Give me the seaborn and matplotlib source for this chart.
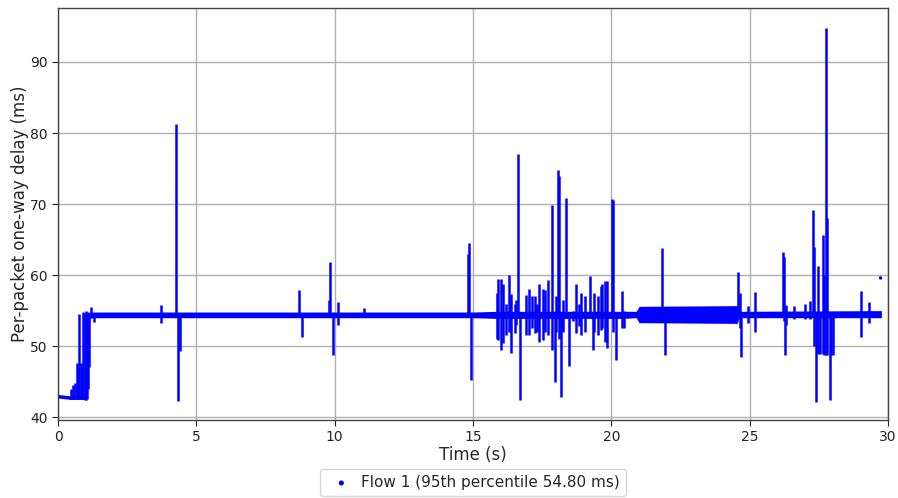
import numpy as np
import matplotlib
matplotlib.use("Agg")
import matplotlib.pyplot as plt
import seaborn as sns

# steady delay band (lower / upper edge)
band_t = [0.0, 0.45, 1.0, 1.15, 4.2, 4.5, 15.0, 15.85, 20.45, 20.9, 21.0, 24.55, 24.62, 29.76]
band_lo = [42.7, 42.5, 42.5, 54.0, 54.0, 54.0, 54.0, 53.9, 53.9, 54.0, 53.3, 53.2, 54.0, 54.0]
band_hi = [43.2, 43.0, 43.1, 54.8, 54.8, 54.8, 54.8, 54.9, 54.9, 54.9, 55.6, 55.7, 54.9, 55.0]

# delay spikes: time, lowest and highest delay of each burst
spike_t = [0.47, 0.55, 0.62, 0.67, 0.72, 0.77, 0.84, 0.88, 0.92, 0.96, 1.00, 1.04, 1.08, 1.12,
           1.19, 1.30, 3.74, 4.28, 4.33, 4.40, 8.72, 8.83, 9.80, 9.84, 9.93, 10.11, 11.05,
           14.83, 14.86, 14.94, 15.85, 15.92, 16.00, 16.08, 16.18, 16.29, 16.39, 16.50, 16.55,
           16.62, 16.69, 16.90, 17.02, 17.12, 17.23, 17.31, 17.39, 17.53, 17.61, 17.71, 17.86,
           17.96, 18.00, 18.06, 18.10, 18.19, 18.25, 18.37, 18.47, 18.60, 18.73, 18.83, 18.92,
           19.06, 19.23, 19.33, 19.37, 19.52, 19.62, 19.66, 19.78, 19.84, 20.04, 20.07, 20.16,
           20.37, 20.47, 21.84, 21.94, 24.58, 24.64, 24.67, 24.95, 25.19, 26.20, 26.25, 26.29,
           26.33, 26.60, 27.00, 27.19, 27.29, 27.33, 27.39, 27.47, 27.55, 27.64, 27.70, 27.77,
           27.81, 27.89, 27.95, 28.00, 29.04, 29.30]
spike_lo = [42.6, 42.6, 42.6, 42.6, 42.6, 42.6, 42.6, 42.6, 42.6, 42.4, 42.4, 42.6, 44.0, 47.0,
            54.0, 53.4, 53.2, 54.4, 42.3, 49.3, 54.4, 51.3, 54.4, 54.4, 48.8, 53.0, 54.2,
            54.4, 54.4, 45.2, 51.0, 50.8, 49.4, 50.4, 51.5, 52.0, 49.1, 51.8, 53.0,
            54.4, 42.4, 51.5, 51.5, 52.5, 51.8, 52.0, 50.6, 50.8, 52.0, 51.5, 49.4,
            45.0, 52.0, 54.4, 51.0, 42.9, 52.0, 54.4, 47.2, 53.5, 51.8, 52.8, 51.5,
            52.0, 54.4, 49.4, 52.0, 51.5, 52.3, 52.5, 50.6, 49.8, 54.4, 52.0, 48.0,
            52.6, 52.5, 54.4, 48.8, 54.4, 52.5, 48.5, 53.2, 52.0, 54.4, 53.5, 48.8,
            53.0, 53.8, 53.8, 53.8, 54.4, 50.0, 42.2, 48.9, 48.9, 48.9, 48.7, 48.7,
            48.7, 42.4, 48.7, 48.7, 51.3, 53.2]
spike_hi = [43.9, 44.5, 44.8, 47.6, 47.2, 54.5, 47.6, 47.0, 54.8, 54.6, 55.0, 54.5, 54.8, 54.6,
            55.5, 54.4, 55.8, 81.2, 54.4, 54.4, 57.9, 54.4, 56.5, 61.9, 54.4, 56.2, 55.4,
            63.0, 64.5, 54.4, 57.5, 59.5, 59.5, 58.7, 56.0, 60.0, 57.3, 56.0, 56.5,
            77.1, 54.4, 57.2, 58.0, 57.0, 57.1, 56.0, 58.7, 58.0, 57.9, 59.3, 69.9,
            54.4, 57.0, 74.8, 74.0, 54.4, 56.5, 70.9, 54.4, 55.0, 58.8, 56.0, 57.5,
            57.1, 59.9, 54.4, 57.5, 57.1, 58.5, 58.7, 59.1, 59.2, 70.7, 70.5, 54.4,
            57.7, 55.0, 63.8, 54.4, 60.4, 57.5, 54.4, 55.7, 57.6, 63.2, 62.5, 54.4,
            55.8, 55.6, 56.0, 56.4, 69.1, 64.0, 54.4, 61.3, 54.4, 65.6, 60.0, 94.8,
            68.0, 54.4, 54.4, 54.4, 57.8, 56.2]

# lone packet near the end
stray_t = [29.73]
stray_delay = [59.6]

label = "Flow 1 (95th percentile 54.80 ms)"

sns.set_style("ticks")
plt.rcParams["font.family"] = ["DejaVu Sans"]

fig = plt.figure(figsize=(8.98, 4.98), dpi=100)
ax = fig.add_axes([0.0646, 0.1566, 0.9243, 0.8274])

ax.fill_between(band_t, band_lo, band_hi, color="blue", lw=0, zorder=3)
ax.vlines(spike_t, spike_lo, spike_hi, color="blue", lw=1.8, zorder=3)
sns.scatterplot(x=stray_t, y=stray_delay, color="blue", s=6, edgecolor="none",
                label=label, ax=ax, zorder=3)

ax.set_xlim(0, 30)
ax.set_ylim(39.6, 97.6)
ax.set_xticks([0, 5, 10, 15, 20, 25, 30])
ax.set_yticks([40, 50, 60, 70, 80, 90])
ax.grid(True, color="#b0b0b0", lw=1)
ax.set_axisbelow(True)
for s in ax.spines.values():
    s.set_color("#444444")
    s.set_linewidth(1)
ax.tick_params(labelsize=10, length=4, direction="out", colors="#222222")
ax.set_xlabel("Time (s)", fontsize=12, labelpad=1)
ax.set_ylabel("Per-packet one-way delay (ms)", fontsize=12, labelpad=1)

ax.legend(loc="upper center", bbox_to_anchor=(0.5, -0.1), fontsize=11,
          markerscale=1.5, frameon=True, handletextpad=0.3)

fig.savefig("out.png", dpi=100)
